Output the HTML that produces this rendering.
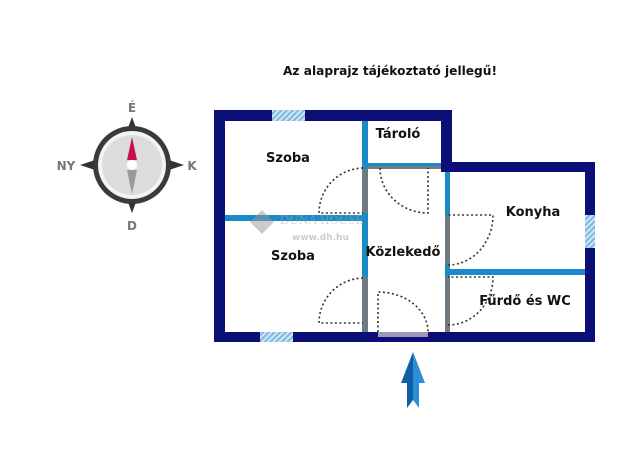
<!DOCTYPE html>
<html><head><meta charset="utf-8"><style>
html,body{margin:0;padding:0;background:#fff;}
svg{display:block;}
text{font-family:"DejaVu Sans","Liberation Sans",sans-serif;font-weight:bold;fill:#111;}
</style></head><body>
<svg width="640" height="451" viewBox="0 0 640 451" xmlns="http://www.w3.org/2000/svg">
<defs>
<pattern id="h" width="4" height="4" patternUnits="userSpaceOnUse" patternTransform="rotate(45)">
<rect width="4" height="4" fill="#cfe6f5"/><rect width="2" height="4" fill="#7fb8e0"/>
</pattern>
<linearGradient id="ag" x1="0" x2="1"><stop offset="0.5" stop-color="#0f5fa8"/><stop offset="0.5" stop-color="#2b8fd6"/></linearGradient>
</defs>
<text x="283" y="75" font-size="12" textLength="214" lengthAdjust="spacingAndGlyphs">Az alaprajz tájékoztató jellegű!</text>

<!-- compass -->
<g>
<polygon points="132,117 145,152 132,165 119,152" fill="#333"/>
<polygon points="132,213 145,178 132,165 119,178" fill="#333"/>
<polygon points="80,165 119,152 132,165 119,178" fill="#333"/>
<polygon points="184,165 145,152 132,165 145,178" fill="#333"/>
<circle cx="132" cy="165" r="39" fill="#3a3a3a"/>
<circle cx="132" cy="165" r="34" fill="#f3f3f3"/>
<circle cx="132" cy="165" r="30" fill="#dcdcdc"/>
<polygon points="132,137 137,160 127,160" fill="#c8104f"/>
<polygon points="132,194 137,170 127,170" fill="#9a9a9a"/>
<circle cx="132" cy="165" r="5" fill="#fff"/>
<text x="132" y="112" font-size="12" text-anchor="middle" style="fill:#777">É</text>
<text x="132" y="230" font-size="12" text-anchor="middle" style="fill:#777">D</text>
<text x="66" y="170" font-size="12" text-anchor="middle" style="fill:#777">NY</text>
<text x="192" y="170" font-size="12" text-anchor="middle" style="fill:#777">K</text>
</g>

<!-- inner walls -->
<g fill="#1a8bc6">
<rect x="362" y="121" width="6" height="211"/>
<rect x="365" y="163" width="80" height="6"/>
<rect x="445" y="172" width="5" height="160"/>
<rect x="225" y="215" width="140" height="6"/>
<rect x="447" y="269" width="138" height="6"/>
</g>
<g fill="#707a82">
<rect x="362" y="169" width="6" height="44"/>
<rect x="362" y="277" width="6" height="55"/>
<rect x="445" y="215" width="5" height="50"/>
<rect x="445" y="277" width="5" height="55"/>
<rect x="368" y="166" width="77" height="3"/>
</g>

<!-- outer walls -->
<g fill="#0c0e78">
<rect x="214" y="110" width="238" height="11"/>
<rect x="214" y="110" width="11" height="232"/>
<rect x="214" y="332" width="381" height="10"/>
<rect x="441" y="110" width="11" height="62"/>
<rect x="441" y="162" width="154" height="10"/>
<rect x="585" y="162" width="10" height="180"/>
</g>
<rect x="272" y="110" width="33" height="11" fill="url(#h)"/>
<rect x="260" y="332" width="33" height="10" fill="url(#h)"/>
<rect x="585" y="215" width="10" height="33" fill="url(#h)"/>
<rect x="378" y="332" width="50" height="5" fill="#9a9ab8"/>

<!-- doors -->
<g fill="none" stroke="#333" stroke-width="1.6" stroke-dasharray="2,2.5">
<path d="M363,168 A45,45 0 0 0 319,213 L363,213"/>
<path d="M363,278 A45,45 0 0 0 319,323 L363,323"/>
<path d="M380,168 A48,45 0 0 0 428,213 L428,168"/>
<path d="M378,332 L378,292 A50,40 0 0 1 428,332"/>
<path d="M448,265 A45,50 0 0 0 493,215 L448,215"/>
<path d="M448,325 A45,48 0 0 0 493,277 L448,277"/>
</g>

<!-- watermark -->
<g opacity="0.5">
<polygon points="262,210 274,222 262,234 250,222" fill="#999"/>
<text x="280" y="224" font-size="13" style="fill:#aaa;font-family:'Liberation Serif',serif;font-weight:normal">DUNA HOUSE</text>
<text x="292" y="240" font-size="9" style="fill:#999">www.dh.hu</text>
</g>

<!-- labels -->
<text x="288" y="162" font-size="13" text-anchor="middle">Szoba</text>
<text x="293" y="260" font-size="13" text-anchor="middle">Szoba</text>
<text x="398" y="138" font-size="13" text-anchor="middle">Tároló</text>
<text x="403" y="256" font-size="13" text-anchor="middle">Közlekedő</text>
<text x="533" y="216" font-size="13" text-anchor="middle">Konyha</text>
<text x="525" y="305" font-size="13" text-anchor="middle">Fűrdő és WC</text>

<!-- arrow -->
<polygon points="413,352 425,383 419,383 419,408 413,400 407,408 407,383 401,383" fill="url(#ag)"/>
</svg>
</body></html>
